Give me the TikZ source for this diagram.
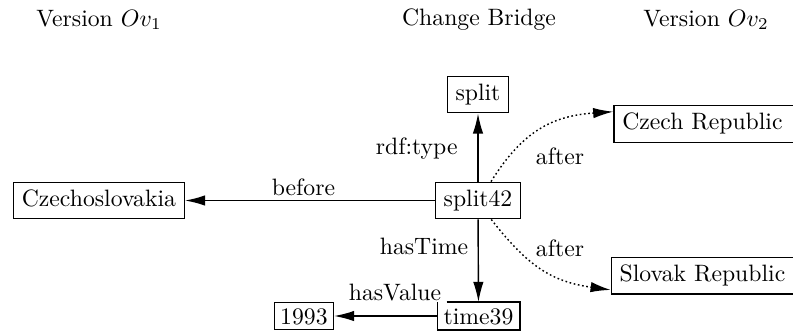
\documentclass[tikz,border=0pt]{standalone}
\usetikzlibrary{arrows.meta}
\begin{document}
\begin{tikzpicture}[x=0.422pt,y=-0.422pt, line width=0.6pt,
  box/.style={draw, inner xsep=3.5pt, inner ysep=3.25pt, text height=6.9pt, text depth=2pt},
  rbox/.style={box, anchor=west, text width=77pt, align=left},
  sbox/.style={inner xsep=2.4pt, inner ysep=2.15pt, text height=6.9pt, text depth=0pt},
  arr/.style={-{Latex[length=8.5pt,width=4.4pt]}},
  darr/.style={arr, dash pattern=on 0.7pt off 1.1pt},
  lbl/.style={inner sep=0pt}]
\useasboundingbox (0,0) rectangle (793,330);

% headers
\node[lbl] (h1) at (99,20) {Version $Ov_1$};
\node[lbl] (h2) at (479,20) {Change Bridge};
\node[lbl] (h3) at (706,20) {Version $Ov_2$};

% nodes
\node[box] (cs) at (98.9,200.5) {Czechoslovakia};
\node[box] (s42) at (478,200.5) {split42};
\node[box] (sp) at (478,94.5) {split};
\node[rbox] (cz) at (613.3,124) {Czech Republic};
\node[rbox] (sk) at (610.7,275.7) {Slovak Republic};
\node[sbox] (t39) at (478.5,316) {time39};
\node[sbox,draw] (y93) at (303.9,316) {1993};
\draw ([xshift=4pt]t39.north west) -- (t39.north east) -- (t39.south east) -- (t39.south west) -- (t39.north west);

% connectors
\draw[arr] (s42) -- (sp);
\draw[arr] (s42) -- (cs);
\draw[arr] (s42) -- (t39);
\draw[arr] (t39) -- (y93);
\draw[darr] ([xshift=5.5pt]s42.north) to[out=58,in=184,looseness=1.1] ([yshift=5.2pt]cz.west);
\draw[darr] ([xshift=5.6pt]s42.south) to[out=-52,in=172,looseness=1.1] ([yshift=-6pt]sk.west);

% labels
\node[lbl] (l1) at (416.7,148.3) {rdf:type};
\node[lbl] (l2) at (303.5,187) {before};
\node[lbl] (l3) at (424,246.7) {hasTime};
\node[lbl] (l4) at (395,292.7) {hasValue};
\node[lbl] (l5) at (560,156.7) {after};
\node[lbl] (l6) at (560,248.3) {after};
\end{tikzpicture}
\end{document}
